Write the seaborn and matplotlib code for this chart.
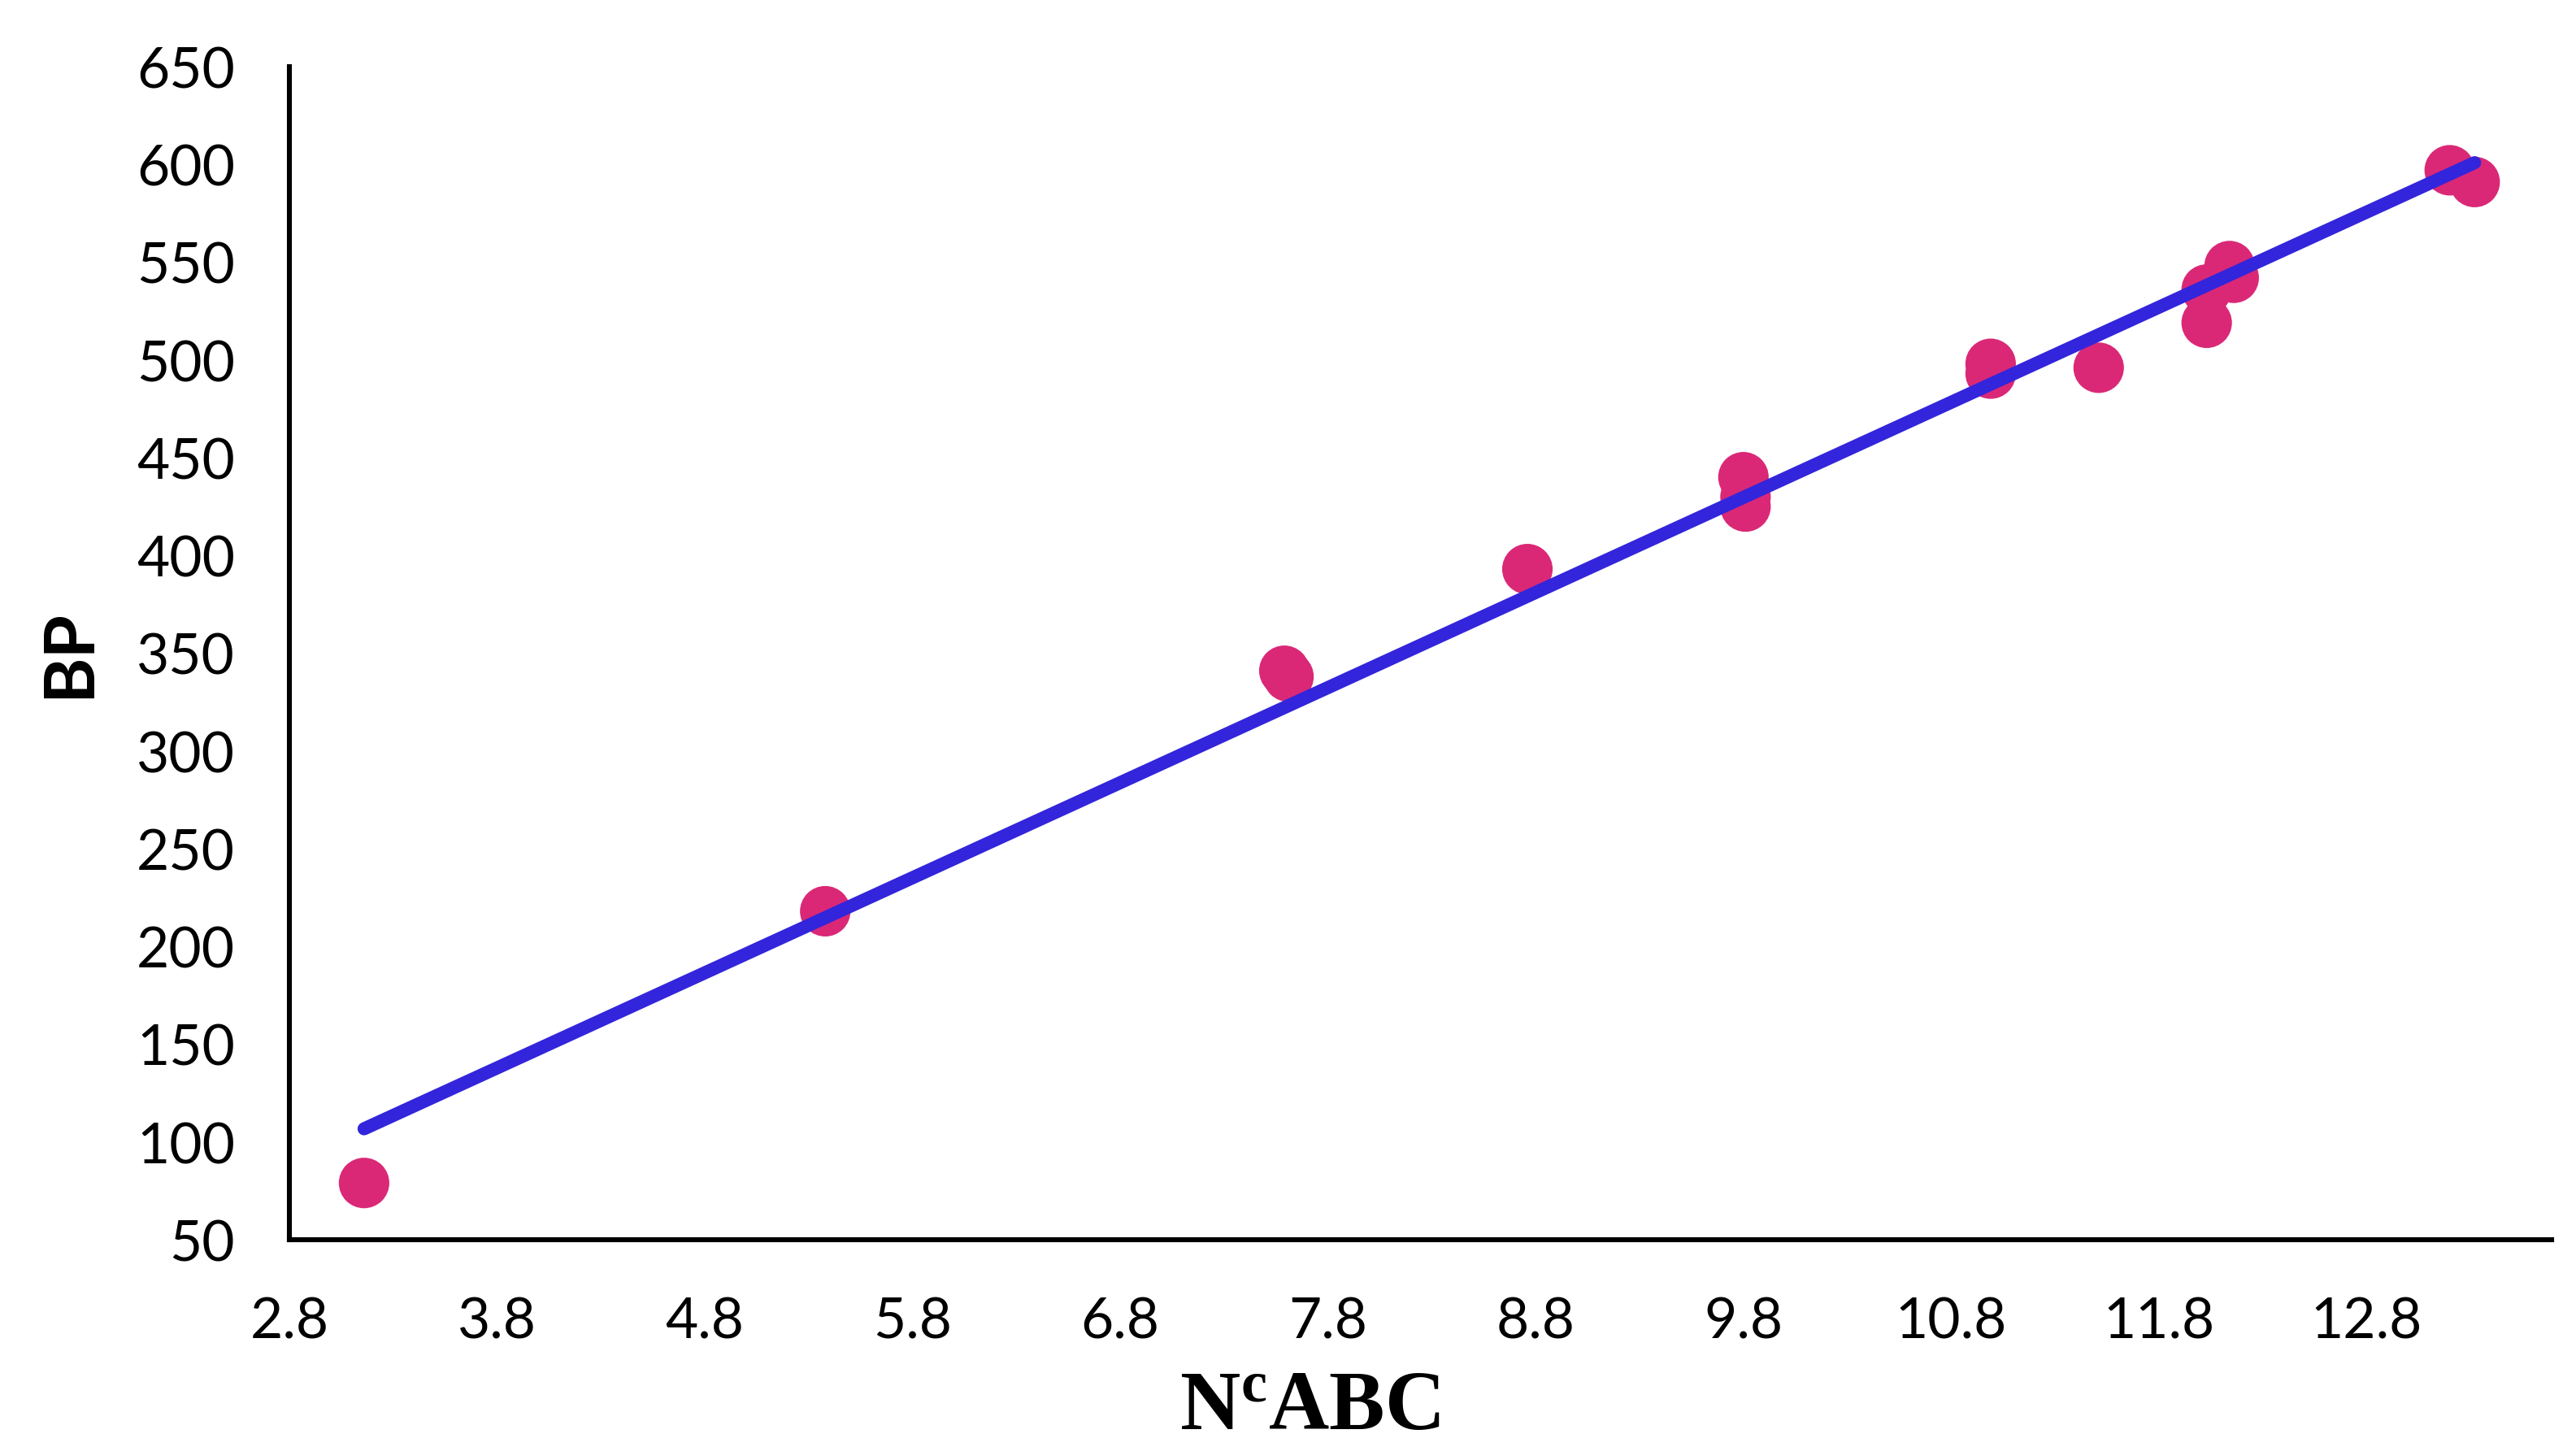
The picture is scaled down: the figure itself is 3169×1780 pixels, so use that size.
import pandas as pd
import numpy as np
import matplotlib
matplotlib.use("Agg")
import matplotlib.pyplot as plt
import seaborn as sns

# values
ncabc = [3.16, 5.38, 7.59, 7.61, 8.76, 9.80, 9.81, 9.81, 10.99, 10.99,
         11.51, 12.03, 12.03, 12.14, 12.16, 13.20, 13.32]
bp = [79, 218, 341, 338, 393, 440, 430, 425, 498, 493,
      496, 536, 519, 548, 542, 597, 591]

x_ticks = [2.8, 3.8, 4.8, 5.8, 6.8, 7.8, 8.8, 9.8, 10.8, 11.8, 12.8]
y_ticks = [50, 100, 150, 200, 250, 300, 350, 400, 450, 500, 550, 600, 650]

df = pd.DataFrame({"NcABC": ncabc, "BP": bp})

sns.set_style("white")
plt.rcParams["font.family"] = ["Lato", "DejaVu Sans"]
plt.rcParams["text.color"] = "black"
plt.rcParams["axes.labelcolor"] = "black"
plt.rcParams["mathtext.fontset"] = "custom"
plt.rcParams["mathtext.bf"] = "Liberation Serif:bold"
plt.rcParams["mathtext.rm"] = "Liberation Serif"

fig = plt.figure(figsize=(15.845, 8.905), dpi=200)
ax = fig.add_axes([0.1123, 0.1432, 0.8782, 0.8102])

sns.scatterplot(data=df, x="NcABC", y="BP", ax=ax, s=500, color="#DA2877",
                edgecolor="none", zorder=2)
sns.regplot(data=df, x="NcABC", y="BP", ax=ax, scatter=False, ci=None,
            truncate=True,
            line_kws={"color": "#3225DB", "lw": 5.8, "solid_capstyle": "round",
                      "zorder": 3})

ax.set_xlim(2.8, 13.69)
ax.set_ylim(50, 650)
ax.set_xticks(x_ticks)
ax.set_xticklabels([f"{t:.1f}" for t in x_ticks])
ax.set_yticks(y_ticks)
ax.tick_params(axis="both", length=0, labelsize=25, colors="black")
ax.tick_params(axis="x", pad=25)
ax.tick_params(axis="y", pad=24)

for side in ["top", "right"]:
    ax.spines[side].set_visible(False)
for side in ["left", "bottom"]:
    ax.spines[side].set_color("black")
    ax.spines[side].set_linewidth(2.2)

ax.set_xlabel(r"$\mathbf{N^{c}ABC}$", fontsize=37, color="black")
ax.xaxis.set_label_coords(0.451, -0.108)
ax.set_ylabel("BP", fontsize=31, fontweight="bold", color="black")
ax.yaxis.set_label_coords(-0.083, 0.5)

fig.savefig("out.png", dpi=200, facecolor="white")
